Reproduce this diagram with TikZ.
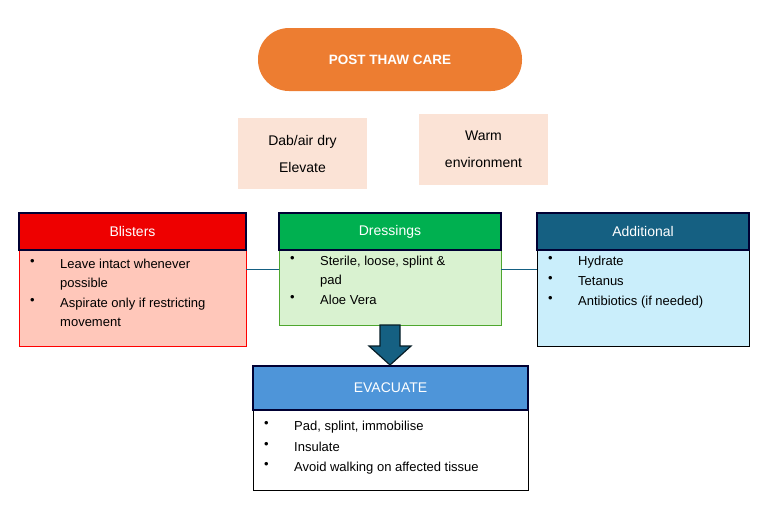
\documentclass[tikz,border=0pt]{standalone}
\usepackage{fontspec}
\setmainfont{Liberation Sans}
\begin{document}
\begin{tikzpicture}[x=1pt,y=-1pt,
 hdr/.style={draw=black!80!blue,line width=1.2pt,text=white,font=\fontsize{14}{16}\selectfont},
 bdy/.style={line width=0.8pt},
 txt/.style={anchor=north west,align=left,inner sep=0pt,font=\fontsize{13}{19}\selectfont},
 bul/.style={anchor=north west,inner sep=0pt,font=\fontsize{13}{19}\selectfont},
 peach/.style={fill=orange!15!white,draw=none,font=\fontsize{14}{27}\selectfont,align=center}]
\useasboundingbox (0,0) rectangle (770,512);
\definecolor{org}{HTML}{ED7D31}
\definecolor{pch}{HTML}{FBE3D6}
\definecolor{blu}{HTML}{156082}
\definecolor{evb}{HTML}{4E95D9}
% title
\node[fill=org,rounded corners=31pt,minimum width=264pt,minimum height=63pt,text=white,font=\bfseries\fontsize{13.5}{16}\selectfont] (title) at (390,59.5) {POST THAW CARE};
\node[fill=pch,minimum width=129pt,minimum height=71pt,font=\fontsize{14}{27}\selectfont,align=center] (dab) at (302.5,153.5) {Dab/air dry\\Elevate};
\node[fill=pch,minimum width=129pt,minimum height=71pt,font=\fontsize{14}{27}\selectfont,align=center] (warm) at (483.5,149) {Warm\\environment};
% bodies
\draw[bdy,draw=red,fill={rgb,255:red,255;green,199;blue,186}] (19,250) rectangle (246,346);
\draw[bdy,draw={rgb,255:red,78;green,167;blue,46},fill={rgb,255:red,217;green,242;blue,208}] (279,250) rectangle (501,325);
\draw[bdy,draw=black,fill={rgb,255:red,202;green,238;blue,251}] (537,250) rectangle (749,346);
\draw[bdy,draw=black,fill=white] (253,410) rectangle (528,490);
% headers
\node[hdr,fill={rgb,255:red,238;green,0;blue,0},minimum width=227pt,minimum height=37pt] (bl) at (132.5,231.5) {Blisters};
\node[hdr,fill={rgb,255:red,0;green,176;blue,80},minimum width=222pt,minimum height=37pt] (dr) at (390,231.5) {Dressings};
\node[hdr,fill=blu,minimum width=212pt,minimum height=37pt] (ad) at (643,231.5) {Additional};
\node[hdr,fill=evb,minimum width=275pt,minimum height=44pt] (ev) at (390.5,388) {EVACUATE};
% connectors
\coordinate (c1) at (246,269); \coordinate (c2) at (279,269);
\coordinate (c3) at (501,269); \coordinate (c4) at (537,269);
\draw[blu,line width=0.6pt] (c1) -- (c2);
\draw[blu,line width=0.6pt] (c3) -- (c4);
% arrow
\draw[fill=blu,draw=black!70!blu,line width=1.2pt] (380,325) -- (400,325) -- (400,346) -- (411,346) -- (390,365) -- (369,346) -- (380,346) -- cycle;
% texts
\foreach \y/\t in {259/{Leave intact whenever\\possible},298/{Aspirate only if restricting\\movement}}{
 \node[bul] at (30,\y) {•}; \node[txt] at (60,\y) {\t};}
\foreach \y/\t in {256/{Sterile, loose, splint \&\\pad},295/{Aloe Vera}}{
 \node[bul] at (290,\y) {•}; \node[txt] at (320,\y) {\t};}
\foreach \y/\t in {256/{Hydrate},276/{Tetanus},296/{Antibiotics (if needed)}}{
 \node[bul] at (548,\y) {•}; \node[txt] at (578,\y) {\t};}
\foreach \y/\t in {421/{Pad, splint, immobilise},442/{Insulate},462/{Avoid walking on affected tissue}}{
 \node[bul] at (264,\y) {•}; \node[txt] at (294,\y) {\t};}
\end{tikzpicture}
\end{document}
